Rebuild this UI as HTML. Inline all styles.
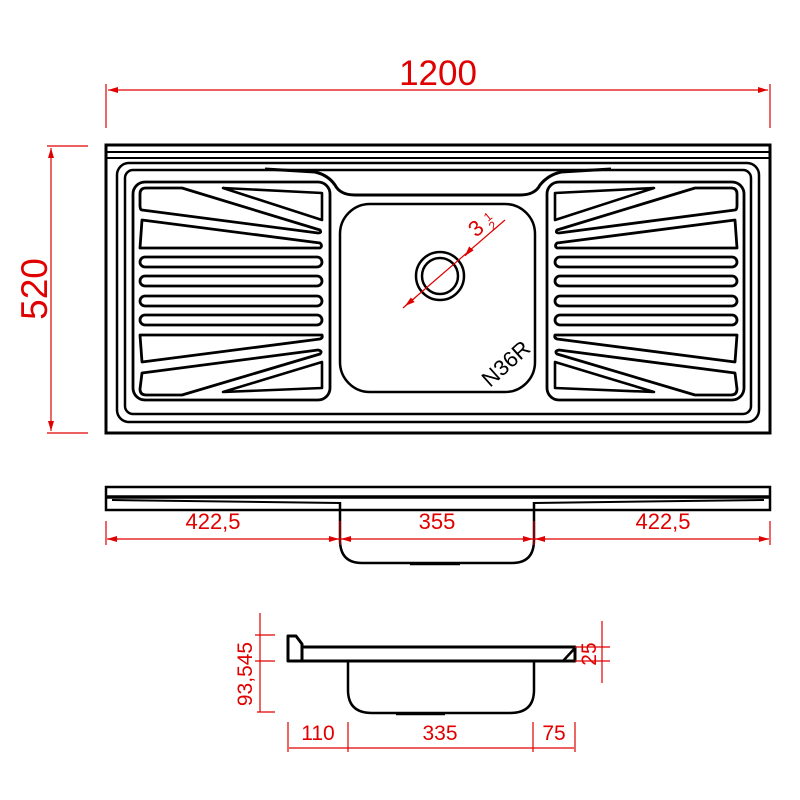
<!DOCTYPE html>
<html><head><meta charset="utf-8"><style>
html,body{margin:0;padding:0;background:#fff;}
svg{display:block;}
text{font-family:"Liberation Sans",sans-serif;fill:#e00000;}
</style></head><body>
<svg width="800" height="800" viewBox="0 0 800 800" xmlns="http://www.w3.org/2000/svg">
<defs>
<marker id="ar" markerWidth="10" markerHeight="6" refX="10" refY="3" orient="auto" markerUnits="userSpaceOnUse">
<path d="M0,0 L10,3 L0,6 z" fill="#e00000"/></marker>
<g id="board" fill="none" stroke="#000" stroke-width="2.8" stroke-linejoin="round">
<rect x="133" y="182" width="197" height="218" rx="12"/>
<path d="M146,188 L182,188 L320,230 Q322,233 318,233 L142,210 Q140,210 140,205 L140,194 Q140,188 146,188 Z"/>
<polygon points="223,188 322,193 322,220" stroke-width="2.6"/>
<path d="M142,220 L320,243 Q323,246 320,248 L140,248 Z"/>
<rect x="140" y="257" width="182" height="10" rx="5"/>
<rect x="140" y="276" width="182" height="10" rx="5"/>
<rect x="140" y="296" width="182" height="10" rx="5"/>
<rect x="140" y="315" width="182" height="10" rx="5"/>
<path d="M140,335 L322,335 Q323,338 320,339 L142,362 Z"/>
<path d="M142,373 L318,350 Q323,351 320,354 L182,395 L146,395 Q140,395 140,389 Z"/>
<polygon points="223,392 322,362 322,388" stroke-width="2.6"/>
</g>
</defs>

<!-- Top view -->
<g fill="none" stroke="#000">
<rect x="106" y="145" width="664" height="288" stroke-width="3"/>
<line x1="106" y1="152" x2="770" y2="152" stroke-width="2"/>
<line x1="106" y1="158" x2="770" y2="158" stroke-width="2"/>
<rect x="117" y="163" width="642" height="259" rx="12" stroke-width="2.5"/>
<rect x="125" y="170" width="626" height="244" rx="8" stroke-width="2.5"/>
<path d="M265,169 L315,172 Q328,175 335,185 Q340,195 355,195 L520,195 Q535,195 540,185 Q548,175 561,172 L611,169" stroke-width="3"/>
<rect x="340" y="204" width="195" height="188" rx="30" stroke-width="2.5"/>
<circle cx="440" cy="276" r="24" stroke-width="2.5"/>
<circle cx="440" cy="276" r="18" stroke-width="2.5"/>
</g>
<use href="#board"/>
<use href="#board" transform="translate(877,0) scale(-1,1)"/>
<line x1="403" y1="308" x2="505" y2="220" stroke="#e00000" stroke-width="1.2"/>
<line x1="415" y1="298" x2="405" y2="306" stroke="#e00000" marker-end="url(#ar)"/>
<line x1="470" y1="250" x2="465" y2="256" stroke="#e00000" marker-end="url(#ar)"/>
<text x="476" y="238" font-size="22" transform="rotate(-40 476 238)">3</text>
<text x="488" y="222" font-size="12" transform="rotate(-40 488 222)">1</text>
<text x="493" y="231" font-size="12" transform="rotate(-40 493 231)">2</text>
<text x="490" y="388" font-size="22" style="fill:#000" transform="rotate(-42 490 388)">N36R</text>

<!-- Dimensions top -->
<g stroke="#e00000" stroke-width="1.2" fill="none">
<line x1="106" y1="84" x2="106" y2="128"/>
<line x1="770" y1="84" x2="770" y2="128"/>
<line x1="120" y1="90" x2="108" y2="90" marker-end="url(#ar)"/>
<line x1="120" y1="90" x2="756" y2="90"/>
<line x1="756" y1="90" x2="768" y2="90" marker-end="url(#ar)"/>
<line x1="47" y1="146" x2="88" y2="146"/>
<line x1="47" y1="433" x2="88" y2="433"/>
<line x1="51" y1="160" x2="51" y2="148" marker-end="url(#ar)"/>
<line x1="51" y1="160" x2="51" y2="420"/>
<line x1="51" y1="420" x2="51" y2="431" marker-end="url(#ar)"/>
</g>
<text x="438" y="85" font-size="35" text-anchor="middle">1200</text>
<text x="47" y="289" font-size="37" text-anchor="middle" transform="rotate(-90 47 289)">520</text>

<!-- Front view -->
<g fill="none" stroke="#000">
<rect x="106" y="487" width="664" height="23" stroke-width="2.5"/>
<line x1="106" y1="497" x2="770" y2="497" stroke-width="3.5"/>
<path d="M112,500 L340,503 M534,503 L764,500" stroke-width="2"/>
<path d="M340,510 L340,540 Q340,563 362,563 L512,563 Q534,563 534,540 L534,510" stroke-width="2.5"/>
<line x1="340" y1="502" x2="340" y2="510" stroke-width="2.5"/>
<line x1="534" y1="502" x2="534" y2="510" stroke-width="2.5"/>
<line x1="410" y1="564" x2="460" y2="564" stroke-width="2.5"/>
</g>
<g stroke="#e00000" stroke-width="1.2" fill="none">
<line x1="106" y1="521" x2="106" y2="545"/>
<line x1="770" y1="521" x2="770" y2="545"/>
<line x1="340" y1="521" x2="340" y2="545"/>
<line x1="534" y1="521" x2="534" y2="545"/>
<line x1="108" y1="539" x2="768" y2="539"/>
<line x1="118" y1="539" x2="107" y2="539" marker-end="url(#ar)"/>
<line x1="328" y1="539" x2="339" y2="539" marker-end="url(#ar)"/>
<line x1="352" y1="539" x2="341" y2="539" marker-end="url(#ar)"/>
<line x1="522" y1="539" x2="533" y2="539" marker-end="url(#ar)"/>
<line x1="546" y1="539" x2="535" y2="539" marker-end="url(#ar)"/>
<line x1="758" y1="539" x2="769" y2="539" marker-end="url(#ar)"/>
</g>
<text x="213" y="529" font-size="22" text-anchor="middle">422,5</text>
<text x="437" y="529" font-size="22" text-anchor="middle">355</text>
<text x="663" y="529" font-size="22" text-anchor="middle">422,5</text>

<!-- Side view -->
<g fill="none" stroke="#000" stroke-width="3" stroke-linejoin="round">
<path d="M288,636 L296,636 L302,644 L302,661 L288,661 Z"/>
<path d="M302,647 L575,647 L575,661 L302,661"/>
<line x1="563" y1="661" x2="575" y2="648" stroke-width="2.5"/>
<path d="M348,661 L348,690 Q348,713 372,713 L510,713 Q534,713 534,690 L534,661" stroke-width="2.5"/>
<line x1="396" y1="714" x2="445" y2="714" stroke-width="2.5"/>
</g>
<g stroke="#e00000" stroke-width="1.2" fill="none">
<line x1="260" y1="613" x2="260" y2="712"/>
<line x1="255" y1="635" x2="275" y2="635"/>
<line x1="255" y1="661" x2="275" y2="661"/>
<line x1="257" y1="712" x2="275" y2="712"/>
<line x1="602" y1="621" x2="602" y2="683"/>
<line x1="575" y1="647" x2="610" y2="647"/>
<line x1="575" y1="661" x2="610" y2="661"/>
<line x1="288" y1="722" x2="288" y2="752"/>
<line x1="348" y1="722" x2="348" y2="752"/>
<line x1="533" y1="722" x2="533" y2="752"/>
<line x1="575" y1="722" x2="575" y2="752"/>
<line x1="289" y1="748" x2="574" y2="748"/>
</g>
<text x="252" y="674" font-size="21" text-anchor="middle" transform="rotate(-90 252 674)">93,545</text>
<text x="596" y="654" font-size="21" text-anchor="middle" transform="rotate(-90 596 654)">25</text>
<text x="318" y="740" font-size="21" text-anchor="middle">110</text>
<text x="440" y="740" font-size="21" text-anchor="middle">335</text>
<text x="554" y="740" font-size="21" text-anchor="middle">75</text>
</svg>
</body></html>
